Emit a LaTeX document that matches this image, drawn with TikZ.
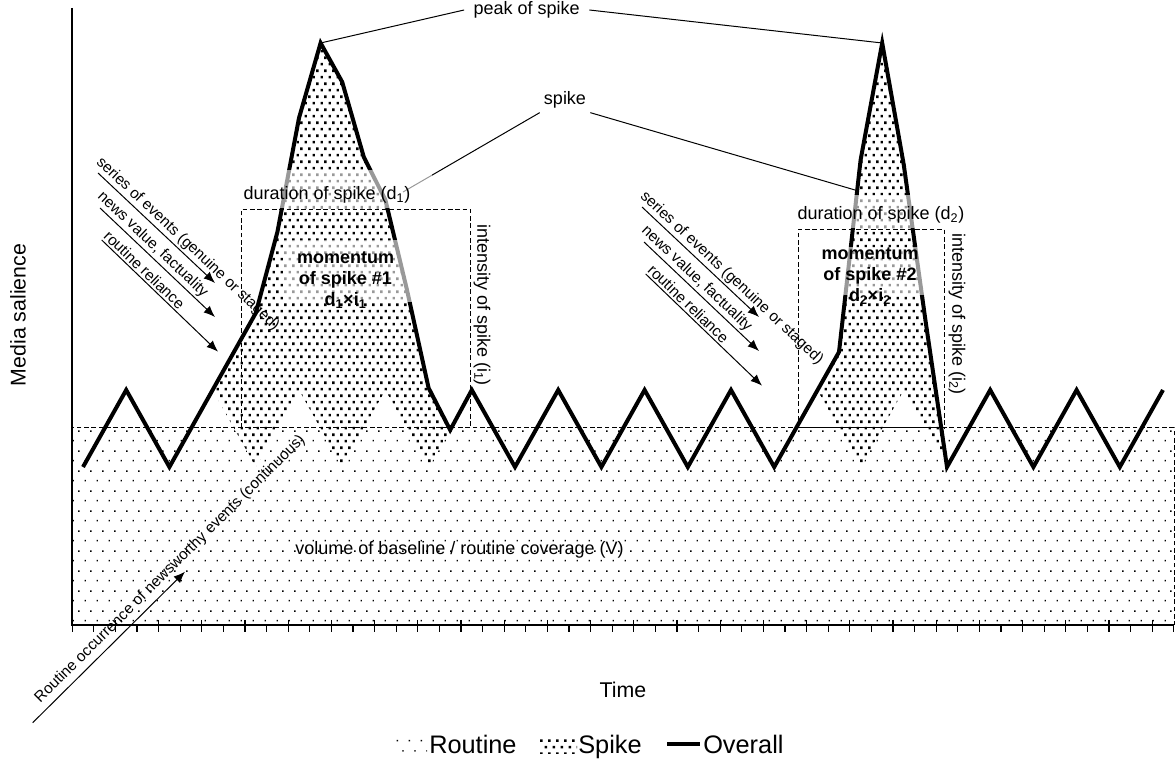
\documentclass[tikz,border=0pt]{standalone}
\usepackage{fontspec}
\setmainfont{Liberation Sans}
\usepackage{tikz}
\usetikzlibrary{arrows.meta}
\usetikzlibrary{patterns}
\usetikzlibrary{positioning}

\pgfdeclarepatternformonly{routinedots}{\pgfqpoint{0pt}{0pt}}{\pgfqpoint{9pt}{15pt}}{\pgfqpoint{9pt}{15pt}}{%
  \pgfpathrectangle{\pgfqpoint{0.5pt}{0.5pt}}{\pgfqpoint{1.1pt}{1.1pt}}%
  \pgfpathrectangle{\pgfqpoint{5pt}{8pt}}{\pgfqpoint{1.1pt}{1.1pt}}%
  \pgfusepath{fill}}
\pgfdeclarepatternformonly{spikedots}{\pgfqpoint{0pt}{0pt}}{\pgfqpoint{6pt}{10pt}}{\pgfqpoint{6pt}{10pt}}{%
  \pgfpathrectangle{\pgfqpoint{0.5pt}{0.5pt}}{\pgfqpoint{2pt}{2pt}}%
  \pgfpathrectangle{\pgfqpoint{3.5pt}{5.5pt}}{\pgfqpoint{2pt}{2pt}}%
  \pgfusepath{fill}}

\begin{document}
\begin{tikzpicture}[x=0.75pt,y=-0.75pt,
        overall/.style={line width=3pt,line join=miter},
        lead/.style={line width=0.75pt},
        boxdash/.style={line width=0.75pt,dash pattern=on 3.5pt off 2pt},
        veil/.style={fill=white,fill opacity=0.6},
        lbl/.style={font=\fontsize{13.5}{16}\selectfont,inner sep=1pt},
        remark/.style={font=\fontsize{11.5}{13}\selectfont,inner sep=1.5pt},
        mom/.style={font=\fontsize{13.5}{15.8}\selectfont\bfseries,align=center,inner sep=0pt},
        leg/.style={font=\fontsize{19}{22}\selectfont,inner sep=0pt,anchor=base west},
        arr/.style={line width=0.75pt,-{Latex[length=3mm,width=2.4mm]}}]
        \useasboundingbox (0,0) rectangle (1175,762);

        % routine volume and the two spikes
        \fill [pattern=routinedots] (72,428) rectangle (1174,625);
        \fill [white] (212.6,390) -- (234.2,351.5) -- (255.8,313) -- (277.4,232) -- (299,118) -- (320.6,43) -- (342.2,82) -- (363.8,157) -- (385.4,200) -- (407,290) -- (428.6,388) -- (450.2,430) -- (428.6,467) -- (385.4,390) -- (342.2,467) -- (299,390) -- (255.8,467) -- cycle;
        \fill [pattern=spikedots] (212.6,390) -- (234.2,351.5) -- (255.8,313) -- (277.4,232) -- (299,118) -- (320.6,43) -- (342.2,82) -- (363.8,157) -- (385.4,200) -- (407,290) -- (428.6,388) -- (450.2,430) -- (428.6,467) -- (385.4,390) -- (342.2,467) -- (299,390) -- (255.8,467) -- cycle;
        \fill [white] (817.4,390) -- (839,352) -- (860.6,160) -- (882.2,43) -- (903.8,165) -- (925.4,320) -- (947,467) -- (903.8,390) -- (860.6,467) -- cycle;
        \fill [pattern=spikedots] (817.4,390) -- (839,352) -- (860.6,160) -- (882.2,43) -- (903.8,165) -- (925.4,320) -- (947,467) -- (903.8,390) -- (860.6,467) -- cycle;
        \draw [boxdash] (72,428) rectangle (1174,625);

        % axes
        \draw [line width=1.1pt] (72,8) -- (72,625) -- (1174,625);
        \foreach \k in {0,2,...,50} \draw [line width=0.9pt] ({72.2+21.6*\k},620) -- ++(0,12);
        \foreach \k in {1,3,...,51} \draw [line width=0.9pt] ({72.2+21.6*\k},625) -- ++(0,7);

        \draw [overall] (83,467) -- (126.2,390) -- (169.4,467) -- (255.8,313) -- (277.4,232) -- (299,118) -- (320.6,43) -- (342.2,82) -- (363.8,157) -- (385.4,200) -- (407,290) -- (428.6,388) -- (450.2,430) -- (471.8,390) -- (515,467) -- (558.2,390) -- (601.4,467) -- (644.6,390) -- (687.8,467) -- (731,390) -- (774.2,467) -- (839,352) -- (860.6,160) -- (882.2,43) -- (903.8,165) -- (925.4,320) -- (947,467) -- (990.2,390) -- (1033.4,467) -- (1076.6,390) -- (1119.8,467) -- (1163,390);

        \draw [boxdash] (241,428) -- (241,209.5) -- (470.5,209.5) -- (470.5,428);
        \draw [boxdash] (798,428) -- (798,229.5) -- (944,229.5) -- (944,428);
        \draw [lead] (798,428) -- (944,428);

        % callouts
        \coordinate (top1) at (320.6,43);
        \coordinate (top2) at (882.2,43);
        \node [lbl,inner xsep=7pt] (pk) at (526.7,10) {peak of spike};
        \draw [lead] (pk.west) -- (top1);
        \draw [lead] (pk.east) -- (top2);
        \coordinate (sk1) at (403,192);
        \coordinate (sk2) at (855,190);
        \node [lbl,inner sep=3pt] (sk) at (565,100) {spike};
        \draw [lead] (sk.south west) -- (sk1);
        \draw [lead] (sk.south east) -- (sk2);

        \fill [veil] (235,170) rectangle (432,208);
        \fill [veil] (283,240) rectangle (418,302);
        \fill [veil] (790,195) rectangle (968,228);
        \fill [veil] (835,247) rectangle (935,295);

        \node [lbl] (du1) at (327,195) {duration of spike (d\textsubscript{1})};
        \node [lbl] (du2) at (881,215) {duration of spike (d\textsubscript{2})};
        \node [mom] (m1) at (345.5,280) {momentum\\of spike \#1\\d\textsubscript{1}×i\textsubscript{1}};
        \node [mom] (m2) at (870,276) {momentum\\of spike \#2\\d\textsubscript{2}×i\textsubscript{2}};
        \node [lbl,rotate=-90] (in1) at (482,305) {intensity of spike (i\textsubscript{1})};
        \node [lbl,rotate=-90] (in2) at (957,314) {intensity of spike (i\textsubscript{2})};
        \node [lbl] (vol) at (459.5,550) {volume of baseline / routine coverage (V)};

        % drivers of spike 1, then the same for spike 2
        \def\dx{544}
        \def\dy{34}
        \coordinate (a1) at (98,173);   \coordinate (b1) at (215,283);
        \coordinate (a2) at (100,208);  \coordinate (b2) at (215,317);
        \coordinate (a3) at (101.7,240); \coordinate (b3) at (218,351.7);
        \draw [arr] (a1) -- node (ev1) [remark,sloped,above,pos=0.71] {series of events (genuine or staged)} (b1);
        \draw [arr] (a2) -- node (nv1) [remark,sloped,above,pos=0.4] {news value, factuality} (b2);
        \draw [arr] (a3) -- node (rr1) [remark,sloped,above,pos=0.32] {routine reliance} (b3);
        \begin{scope}[shift={(\dx,\dy)}]
            \coordinate (c1) at (98,173);   \coordinate (e1) at (215,283);
            \coordinate (c2) at (100,208);  \coordinate (e2) at (215,317);
            \coordinate (c3) at (101.7,240); \coordinate (e3) at (218,351.7);
            \draw [arr] (c1) -- node (ev2) [remark,sloped,above,pos=0.71] {series of events (genuine or staged)} (e1);
            \draw [arr] (c2) -- node (nv2) [remark,sloped,above,pos=0.4] {news value, factuality} (e2);
            \draw [arr] (c3) -- node (rr2) [remark,sloped,above,pos=0.32] {routine reliance} (e3);
        \end{scope}

        \coordinate (ro1) at (32.7,722.7);
        \coordinate (ro2) at (185,571.7);
        \draw [arr] (ro1) -- node (roc) [remark,sloped,above=2pt,pos=0.96] {Routine occurrence of newsworthy events (continuous)} (ro2);

        % axis titles and legend
        \node [font=\fontsize{16}{18}\selectfont,rotate=90] (ytitle) at (18,315) {Media salience};
        \node [font=\fontsize{16}{18}\selectfont] (xtitle) at (623,690) {Time};
        \fill [pattern=routinedots] (392,737) rectangle (427,753);
        \node [leg] (lg1) at (429,753) {Routine};
        \fill [pattern=spikedots] (540,737) rectangle (577,753);
        \node [leg] (lg2) at (578,753) {Spike};
        \draw [line width=3pt] (667,744) -- (700,744);
        \node [leg] (lg3) at (703,753) {Overall};
\end{tikzpicture}
\end{document}
